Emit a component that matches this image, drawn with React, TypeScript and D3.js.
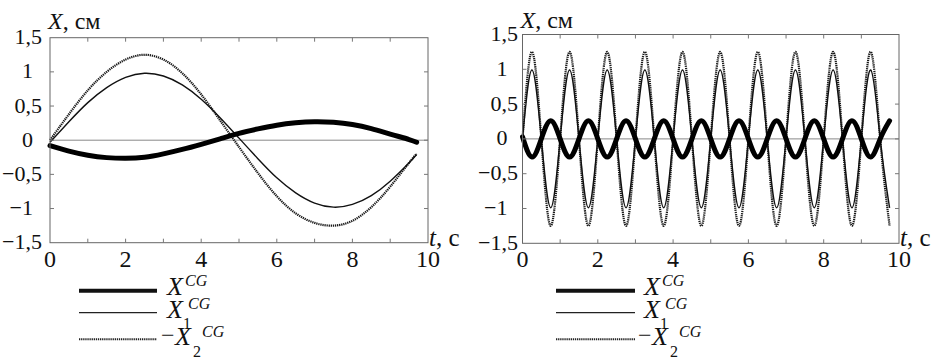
import React from "react";
import * as d3 from "d3";

// ---------- data ----------
const tLeft = [0, 0.5, 1, 1.5, 2, 2.5, 3, 3.5, 4, 4.5, 5, 5.5, 6, 6.5, 7, 7.5, 8, 8.5, 9, 9.5, 9.7];
const xcgLeft = [-0.08, -0.16, -0.22, -0.255, -0.265, -0.25, -0.2, -0.135, -0.06, 0.02, 0.1, 0.165, 0.22, 0.255, 0.27, 0.262, 0.23, 0.17, 0.09, 0.01, -0.03];
const x1Left = [-0.03, 0.27, 0.55, 0.77, 0.92, 0.98, 0.94, 0.81, 0.6, 0.33, 0.03, -0.27, -0.55, -0.77, -0.92, -0.98, -0.94, -0.81, -0.6, -0.33, -0.21];
const x2Left = [0.0, 0.38, 0.73, 1.0, 1.18, 1.25, 1.18, 0.98, 0.67, 0.29, -0.1, -0.48, -0.82, -1.07, -1.21, -1.25, -1.18, -0.98, -0.68, -0.33, -0.2];

const tRight = [
  0, 0.25, 0.5, 0.75, 1, 1.25, 1.5, 1.75, 2, 2.25, 2.5, 2.75, 3, 3.25, 3.5, 3.75, 4, 4.25, 4.5, 4.75,
  5, 5.25, 5.5, 5.75, 6, 6.25, 6.5, 6.75, 7, 7.25, 7.5, 7.75, 8, 8.25, 8.5, 8.75, 9, 9.25, 9.5, 9.75,
];
const xcgRight = [
  0.03, -0.26, 0, 0.26, 0, -0.26, 0, 0.26, 0, -0.26, 0, 0.26, 0, -0.26, 0, 0.26, 0, -0.26, 0, 0.26,
  0, -0.26, 0, 0.26, 0, -0.26, 0, 0.26, 0, -0.26, 0, 0.26, 0, -0.26, 0, 0.26, 0, -0.26, 0, 0.26,
];
const x1Right = [
  0, 0.99, 0, -0.99, 0, 0.99, 0, -0.99, 0, 0.99, 0, -0.99, 0, 0.99, 0, -0.99, 0, 0.99, 0, -0.99,
  0, 0.99, 0, -0.99, 0, 0.99, 0, -0.99, 0, 0.99, 0, -0.99, 0, 0.99, 0, -0.99, 0, 0.99, 0, -0.99,
];
const x2Right = [
  0, 1.25, 0, -1.25, 0, 1.25, 0, -1.25, 0, 1.25, 0, -1.25, 0, 1.25, 0, -1.25, 0, 1.25, 0, -1.25,
  0, 1.25, 0, -1.25, 0, 1.25, 0, -1.25, 0, 1.25, 0, -1.25, 0, 1.25, 0, -1.25, 0, 1.25, 0, -1.25,
];

const xTickValues = [0, 2, 4, 6, 8, 10];
const xTickLabels = ["0", "2", "4", "6", "8", "10"];
const xMinorTicks = [1, 2, 3, 4, 5, 6, 7, 8, 9];
const yTickValues = [1.5, 1, 0.5, 0, -0.5, -1, -1.5];
const yTickLabels = ["1,5", "1", "0,5", "0", "\u22120,5", "\u22121", "\u22121,5"];

const FONT = "Liberation Serif";

type PanelProps = {
  x0: number; x1: number; y0: number; y1: number;
  t: number[]; xcg: number[]; xa: number[]; xb: number[];
  gapFrac: number; gapInt: number; yTitleBase: number;
  legLine0: number; legLine1: number; legText: number;
};

function zip(t: number[], v: number[]): [number, number][] {
  return t.map((d, i) => [d, v[i]]);
}

function Legend({ l0, l1, tx }: { l0: number; l1: number; tx: number }) {
  const rows = [290.7, 312.7, 339.3];
  return (
    <g fontFamily={FONT} fill="#111">
      <line x1={l0} x2={l1} y1={rows[0]} y2={rows[0]} stroke="#111" strokeWidth={4} />
      <line x1={l0} x2={l1} y1={rows[1]} y2={rows[1]} stroke="#222" strokeWidth={1.3} />
      <line x1={l0} x2={l1} y1={rows[2]} y2={rows[2]} stroke="#222" strokeWidth={2} strokeDasharray="1.3 0.8" />
      <text x={tx} y={295} fontFamily={FONT} fontSize={26} fontStyle="italic">X</text>
      <text x={tx + 18} y={286} fontFamily={FONT} fontSize={16} fontStyle="italic">CG</text>
      <text x={tx} y={318} fontFamily={FONT} fontSize={26} fontStyle="italic">X</text>
      <text x={tx + 16} y={329} fontFamily={FONT} fontSize={16}>1</text>
      <text x={tx + 21} y={309} fontFamily={FONT} fontSize={16} fontStyle="italic">CG</text>
      <text x={tx - 6} y={343} fontFamily={FONT} fontSize={24}>{"\u2212"}</text>
      <text x={tx + 8} y={345} fontFamily={FONT} fontSize={26} fontStyle="italic">X</text>
      <text x={tx + 26} y={357} fontFamily={FONT} fontSize={16}>2</text>
      <text x={tx + 35} y={337} fontFamily={FONT} fontSize={16} fontStyle="italic">CG</text>
    </g>
  );
}

function Panel(p: PanelProps) {
  const xs = d3.scaleLinear().domain([0, 10]).range([p.x0, p.x1]);
  const ys = d3.scaleLinear().domain([-1.5, 1.5]).range([p.y1, p.y0]);
  const line = d3
    .line<[number, number]>()
    .x((d) => xs(d[0]))
    .y((d) => ys(d[1]))
    .curve(d3.curveNatural);
  const tickLen = 4;
  return (
    <g>
      <line x1={xs(0)} x2={xs(10)} y1={ys(0)} y2={ys(0)} stroke="#888" strokeWidth={1} />
      <path d={line(zip(p.t, p.xb)) || ""} fill="none" stroke="#1a1a1a" strokeWidth={2.2} strokeDasharray="1.3 0.8" />
      <path d={line(zip(p.t, p.xa)) || ""} fill="none" stroke="#111" strokeWidth={1.4} />
      <path d={line(zip(p.t, p.xcg)) || ""} fill="none" stroke="#000" strokeWidth={5} strokeLinecap="round" />
      <rect x={p.x0} y={p.y0} width={p.x1 - p.x0} height={p.y1 - p.y0} fill="none" stroke="#666" strokeWidth={1} />
      {xMinorTicks.map((v) => (
        <g key={"xt" + v} stroke="#777" strokeWidth={1}>
          <line x1={xs(v)} x2={xs(v)} y1={p.y1} y2={p.y1 - tickLen} />
          <line x1={xs(v)} x2={xs(v)} y1={p.y0} y2={p.y0 + tickLen} />
        </g>
      ))}
      {yTickValues.slice(1, -1).map((v) => (
        <g key={"yt" + v} stroke="#777" strokeWidth={1}>
          <line x1={p.x0} x2={p.x0 + tickLen} y1={ys(v)} y2={ys(v)} />
          <line x1={p.x1} x2={p.x1 - tickLen} y1={ys(v)} y2={ys(v)} />
        </g>
      ))}
      <g fontFamily={FONT} fill="#111">
        {xTickValues.map((v, i) => (
          <text key={"xl" + v} x={xs(v)} y={267} textAnchor="middle" fontFamily={FONT} fontSize={24}>
            {xTickLabels[i]}
          </text>
        ))}
        {yTickValues.map((v, i) => {
          const frac = yTickLabels[i].includes(",");
          return (
            <text
              key={"yl" + v}
              x={p.x0 - (frac ? p.gapFrac : p.gapInt)}
              y={ys(v) + 6.5}
              textAnchor="end"
              fontFamily={FONT}
              fontSize={22}
            >
              {yTickLabels[i]}
            </text>
          );
        })}
        <text x={p.x0 - 2} y={p.yTitleBase} fontFamily={FONT} fontSize={24}>
          <tspan fontStyle="italic">X</tspan>
          <tspan>, см</tspan>
        </text>
        <text x={p.x1 + 1} y={246} fontFamily={FONT} fontSize={25}>
          <tspan fontStyle="italic">t</tspan>
          <tspan>, с</tspan>
        </text>
      </g>
      <Legend l0={p.legLine0} l1={p.legLine1} tx={p.legText} />
    </g>
  );
}

export default function App() {
  return (
    <svg
      width={938}
      height={362}
      fontFamily={FONT}
      style={{ position: "absolute", left: 0, top: 0, background: "#fff" }}
    >
      <rect x={0} y={0} width={938} height={362} fill="#fff" />
      <Panel
        x0={50} x1={428} y0={37.7} y1={242.7}
        t={tLeft} xcg={xcgLeft} xa={x1Left} xb={x2Left}
        gapFrac={8} gapInt={17} yTitleBase={29}
        legLine0={79} legLine1={157} legText={167}
      />
      <Panel
        x0={522.5} x1={899} y0={34.5} y1={243.3}
        t={tRight} xcg={xcgRight} xa={x1Right} xb={x2Right}
        gapFrac={4.5} gapInt={15} yTitleBase={28}
        legLine0={556} legLine1={635} legText={644}
      />
    </svg>
  );
}
